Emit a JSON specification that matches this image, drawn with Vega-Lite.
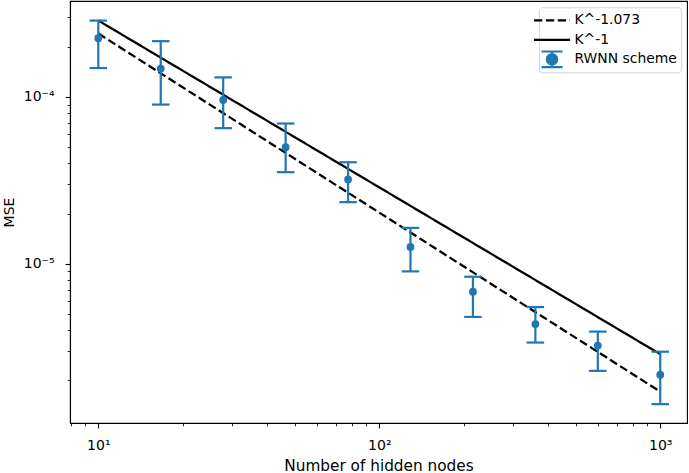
{
  "$schema": "https://vega.github.io/schema/vega-lite/v6.json",
  "width": 617,
  "height": 422,
  "autosize": "none",
  "padding": {"left": 70, "top": 1, "right": 2, "bottom": 50},
  "background": "white",
  "datasets": {
    "fits": [
      {"K": 10, "mse": 2.40e-4, "series": "K^-1.073"},
      {"K": 1000, "mse": 1.71e-6, "series": "K^-1.073"},
      {"K": 10, "mse": 2.87e-4, "series": "K^-1"},
      {"K": 1000, "mse": 2.87e-6, "series": "K^-1"}
    ],
    "rwnn": [
      {"K": 10, "mse": 2.25e-4, "lo": 1.49e-4, "hi": 2.87e-4, "series": "RWNN scheme"},
      {"K": 16.68, "mse": 1.48e-4, "lo": 9.0e-5, "hi": 2.16e-4, "series": "RWNN scheme"},
      {"K": 27.83, "mse": 9.6e-5, "lo": 6.5e-5, "hi": 1.31e-4, "series": "RWNN scheme"},
      {"K": 46.42, "mse": 5.0e-5, "lo": 3.54e-5, "hi": 6.93e-5, "series": "RWNN scheme"},
      {"K": 77.43, "mse": 3.2e-5, "lo": 2.34e-5, "hi": 4.06e-5, "series": "RWNN scheme"},
      {"K": 129.15, "mse": 1.26e-5, "lo": 9.0e-6, "hi": 1.64e-5, "series": "RWNN scheme"},
      {"K": 215.44, "mse": 6.8e-6, "lo": 4.8e-6, "hi": 8.36e-6, "series": "RWNN scheme"},
      {"K": 359.38, "mse": 4.35e-6, "lo": 3.37e-6, "hi": 5.5e-6, "series": "RWNN scheme"},
      {"K": 599.48, "mse": 3.23e-6, "lo": 2.28e-6, "hi": 3.92e-6, "series": "RWNN scheme"},
      {"K": 1000, "mse": 2.16e-6, "lo": 1.44e-6, "hi": 2.97e-6, "series": "RWNN scheme"}
    ]
  },
  "encoding": {
    "x": {
      "field": "K",
      "type": "quantitative",
      "scale": {"type": "log", "domain": [7.93, 1245], "nice": false},
      "axis": {
        "title": "Number of hidden nodes",
        "titleFontSize": 15.3,
        "values": [8, 9, 10, 20, 30, 40, 50, 60, 70, 80, 90, 100, 200, 300, 400, 500, 600, 700, 800, 900, 1000],
        "labelExpr": "datum.value == 10 ? '10¹' : datum.value == 100 ? '10²' : datum.value == 1000 ? '10³' : ''",
        "tickSize": {"condition": {"test": "datum.value == 10 || datum.value == 100 || datum.value == 1000", "value": 4.9}, "value": 2.8},
        "tickWidth": {"condition": {"test": "datum.value == 10 || datum.value == 100 || datum.value == 1000", "value": 1.1}, "value": 0.85},
        "labelPadding": 11,
        "labelBaseline": "top",
        "labelFlush": false,
        "labelOverlap": false,
        "titleY": 47,
        "titleBaseline": "alphabetic"
      }
    },
    "color": {
      "field": "series",
      "type": "nominal",
      "scale": {"domain": ["K^-1.073", "K^-1", "RWNN scheme"], "range": ["black", "black", "#1f77b4"]},
      "legend": {
        "title": null,
        "orient": "none",
        "legendX": 469,
        "legendY": 6.3,
        "symbolSize": 225,
        "symbolStrokeWidth": 2,
        "labelFontSize": 13.9,
        "labelFont": "DejaVu Sans",
        "labelColor": "black",
        "labelOffset": 13.5,
        "rowPadding": 3.5,
        "padding": 4,
        "strokeColor": "#d4d4d4",
        "fillColor": "white",
        "cornerRadius": 3,
        "encode": {
          "symbols": {
            "update": {
              "shape": {"signal": "datum.value === 'RWNN scheme' ? 'M-1.4,-1.04H1.4M0,-1.04V1.04M-1.4,1.04H1.4M0.7,0L0.606,0.35L0.35,0.606L0,0.7L-0.35,0.606L-0.606,0.35L-0.7,0L-0.606,-0.35L-0.35,-0.606L0,-0.7L0.35,-0.606L0.606,-0.35Z' : 'M-2.4,0H2.4'"},
              "strokeDash": {"signal": "datum.value === 'K^-1.073' ? [8.3, 3.6] : []"},
              "stroke": {"signal": "datum.value === 'RWNN scheme' ? '#1f77b4' : 'black'"},
              "fill": {"value": "#1f77b4"},
              "strokeWidth": {"value": 2.2},
              "strokeJoin": {"value": "bevel"},
              "opacity": {"value": 1}
            }
          }
        }
      }
    }
  },
  "layer": [
    {
      "data": {"name": "fits"},
      "mark": {"type": "line", "strokeWidth": 2.25},
      "encoding": {
        "y": {
          "field": "mse",
          "type": "quantitative",
          "scale": {"type": "log", "domain": [1.11e-6, 3.76e-4], "nice": false},
          "axis": {
            "title": "MSE",
            "values": [2e-6, 3e-6, 4e-6, 5e-6, 6e-6, 7e-6, 8e-6, 9e-6, 1e-5, 2e-5, 3e-5, 4e-5, 5e-5, 6e-5, 7e-5, 8e-5, 9e-5, 1e-4, 2e-4, 3e-4],
            "labelExpr": "datum.value == 1e-4 ? '10⁻⁴' : datum.value == 1e-5 ? '10⁻⁵' : ''",
            "tickSize": {"condition": {"test": "datum.value == 1e-4 || datum.value == 1e-5", "value": 4.9}, "value": 2.8},
            "tickWidth": {"condition": {"test": "datum.value == 1e-4 || datum.value == 1e-5", "value": 1.1}, "value": 0.85},
            "labelPadding": 11,
            "labelFlush": false,
            "labelOverlap": false,
            "titleX": -56.5,
            "titleY": 211,
            "titleAngle": -90,
            "titleAlign": "center",
            "titleBaseline": "alphabetic"
          }
        },
        "strokeDash": {
          "field": "series",
          "type": "nominal",
          "scale": {"domain": ["K^-1.073", "K^-1"], "range": [[8.3, 3.6], [1, 0]]},
          "legend": null
        }
      }
    },
    {
      "data": {"name": "rwnn"},
      "mark": {"type": "rule", "strokeWidth": 2.2},
      "encoding": {
        "y": {"field": "lo", "type": "quantitative", "scale": {"type": "log", "domain": [1.11e-6, 3.76e-4], "nice": false}},
        "y2": {"field": "hi"}
      }
    },
    {
      "data": {"name": "rwnn"},
      "mark": {"type": "tick", "orient": "horizontal", "size": 17.5, "thickness": 2.2, "opacity": 1},
      "encoding": {
        "y": {"field": "lo", "type": "quantitative", "scale": {"type": "log", "domain": [1.11e-6, 3.76e-4], "nice": false}}
      }
    },
    {
      "data": {"name": "rwnn"},
      "mark": {"type": "tick", "orient": "horizontal", "size": 17.5, "thickness": 2.2, "opacity": 1},
      "encoding": {
        "y": {"field": "hi", "type": "quantitative", "scale": {"type": "log", "domain": [1.11e-6, 3.76e-4], "nice": false}}
      }
    },
    {
      "data": {"name": "rwnn"},
      "mark": {"type": "point", "filled": true, "size": 61, "opacity": 1, "strokeWidth": 0},
      "encoding": {
        "y": {"field": "mse", "type": "quantitative", "scale": {"type": "log", "domain": [1.11e-6, 3.76e-4], "nice": false}}
      }
    }
  ],
  "config": {
    "view": {"stroke": "black", "strokeWidth": 1.1},
    "font": "DejaVu Sans",
    "axis": {
      "grid": false,
      "domainColor": "black",
      "domainWidth": 1.1,
      "tickColor": "black",
      "labelColor": "black",
      "titleColor": "black",
      "labelFont": "DejaVu Sans",
      "titleFont": "DejaVu Sans",
      "labelFontSize": 14,
      "titleFontSize": 14,
      "titleFontWeight": "normal"
    }
  }
}
